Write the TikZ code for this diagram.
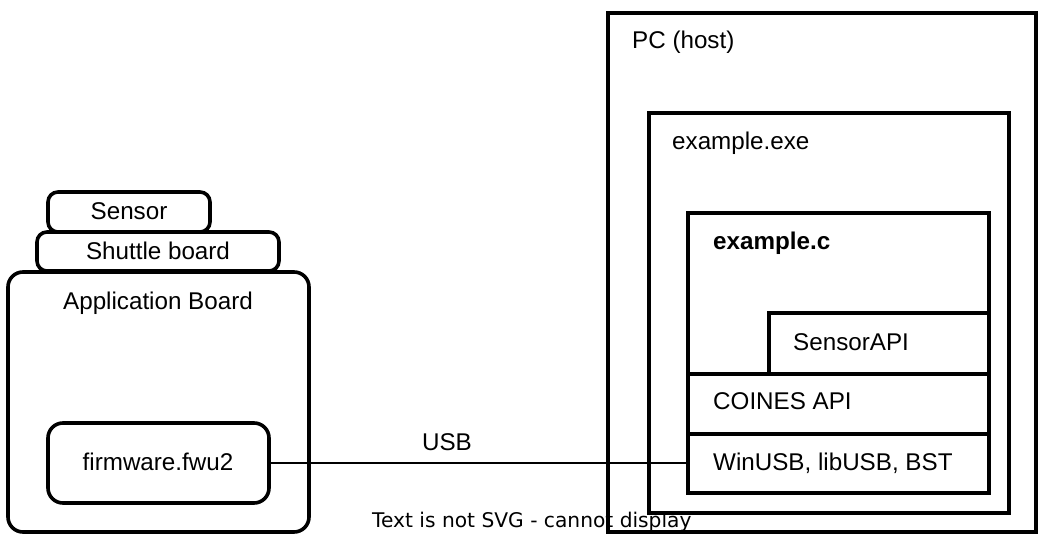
\documentclass[tikz,border=0pt]{standalone}
\usepackage{fontspec}
\setmainfont{Liberation Sans}
\newfontfamily\warnfont{DejaVu Sans}
\begin{document}
\begin{tikzpicture}[x=1pt,y=-1pt,
  box/.style={draw, line width=3.6pt, inner sep=0pt, outer sep=0pt, anchor=north west},
  rbox/.style={box, rounded corners=#1},
  lbl/.style={inner sep=0pt, anchor=base west, font=\fontsize{24.2}{28}\selectfont},
  clbl/.style={inner sep=0pt, anchor=base, font=\fontsize{24.2}{28}\selectfont},
  wire/.style={line width=1.6pt}]
\useasboundingbox (0,0) rectangle (1040,534);
% left side
\node[rbox=10pt, minimum width=162, minimum height=40] (sensor) at (48,192) {};
\node[rbox=10pt, minimum width=242, minimum height=39] (shuttle) at (37,232) {};
\node[rbox=15pt, minimum width=301, minimum height=260] (app) at (8,272) {};
\node[rbox=15pt, minimum width=221, minimum height=80] (fw) at (48,423) {};
\node[clbl] (sensorT) at (129,220) {Sensor};
\node[clbl] (shuttleT) at (158,260) {Shuttle board};
\node[clbl] (appT) at (158,309) {Application Board};
\node[clbl] (fwT) at (158,470) {firmware.fwu2};
% right side
\node[box, minimum width=428, minimum height=519] (pc) at (608,13) {};
\node[box, minimum width=360, minimum height=400] (exe) at (649,113) {};
\node[box, minimum width=301, minimum height=280] (exc) at (688,213) {};
\node[box, minimum width=220, minimum height=61] (sapi) at (769,313) {};
\node[box, minimum width=301, minimum height=60] (coines) at (688,374) {};
\node[box, minimum width=301, minimum height=59] (winusb) at (688,434) {};
\node[lbl] (pcT) at (632,49) {PC (host)};
\node[lbl] (exeT) at (672,150) {example.exe};
\node[lbl, font=\fontsize{24.2}{28}\selectfont\bfseries] (excT) at (713,250) {example.c};
\node[lbl] (sapiT) at (793,350) {SensorAPI};
\node[lbl] (coinesT) at (713,409) {COINES API};
\node[lbl] (winusbT) at (713,470) {WinUSB, libUSB, BST};
% connector
\draw[wire] (fw.east) -- (winusb.west |- fw.east);
\node[clbl] (usbT) at (447,450) {USB};
\node[inner sep=0pt, anchor=base west, font=\warnfont\fontsize{20.2}{24}\selectfont] (warn) at (372,527) {Text is not SVG - cannot display};
\end{tikzpicture}
\end{document}
